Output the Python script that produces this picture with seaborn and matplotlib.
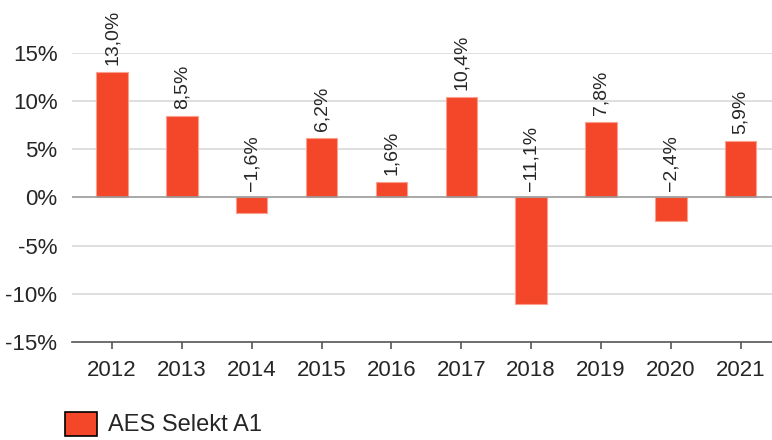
import matplotlib.pyplot as plt
from matplotlib.patches import Patch
import pandas as pd
import seaborn as sns

years = ['2012', '2013', '2014', '2015', '2016', '2017', '2018', '2019', '2020', '2021']
returns = [13.0, 8.5, -1.6, 6.2, 1.6, 10.4, -11.1, 7.8, -2.4, 5.9]
series_name = 'AES Selekt A1'
y_ticks = [-15, -10, -5, 0, 5, 10, 15]

BAR_COLOR = '#f44628'


def main():
    sns.set_style('white')
    plt.rcParams['font.family'] = ['Liberation Sans', 'DejaVu Sans']

    df = pd.DataFrame({'year': years, 'ret': returns})

    fig = plt.figure(figsize=(7.72, 4.4), dpi=100)
    ax = fig.add_axes([72 / 772, 1 - 342 / 440, 1 - 72 / 772, (342 - 53) / 440])

    sns.barplot(data=df, x='year', y='ret', color=BAR_COLOR, width=0.45,
                edgecolor='#f9a08f', linewidth=0.8, saturation=1, ax=ax, zorder=3)

    ax.set_ylim(-15, 15)
    ax.set_xlim(-0.573, 9.449)
    ax.set_yticks(y_ticks)
    ax.set_yticklabels([f'{t}%' for t in y_ticks])
    ax.set_xlabel('')
    ax.set_ylabel('')

    # grid
    for t in y_ticks:
        if t == -15:
            continue
        col = '#9a9a9a' if t == 0 else '#d9d9d9'
        ax.axhline(t, color=col, linewidth=1.2, zorder=1 if t != 0 else 4)

    for side in ['top', 'right', 'left']:
        ax.spines[side].set_visible(False)
    ax.spines['bottom'].set_color('#555555')
    ax.spines['bottom'].set_linewidth(1.2)

    ax.tick_params(axis='x', bottom=True, length=5, width=1.2, color='#555555',
                   labelsize=16, pad=8)
    ax.tick_params(axis='y', left=False, labelsize=16, pad=7)

    # value labels
    for i, v in enumerate(returns):
        txt = f'{v:.1f}%'.replace('.', ',').replace('-', '\u2212')
        base = max(v, 0)
        ax.annotate(txt, xy=(i, base), xytext=(0, 5), textcoords='offset points',
                    rotation=90, ha='center', va='bottom', fontsize=14,
                    annotation_clip=False)

    handle = Patch(facecolor=BAR_COLOR, edgecolor='black', linewidth=1.2)
    fig.legend([handle], [series_name], loc='center left',
               bbox_to_anchor=(65 / 772, 1 - 424 / 440),
               frameon=False, fontsize=17, handlelength=1.36, handleheight=1.19,
               handletextpad=0.47, borderpad=0, borderaxespad=0)

    plt.savefig('out.png', dpi=100)
    plt.close()


if __name__ == '__main__':
    main()
